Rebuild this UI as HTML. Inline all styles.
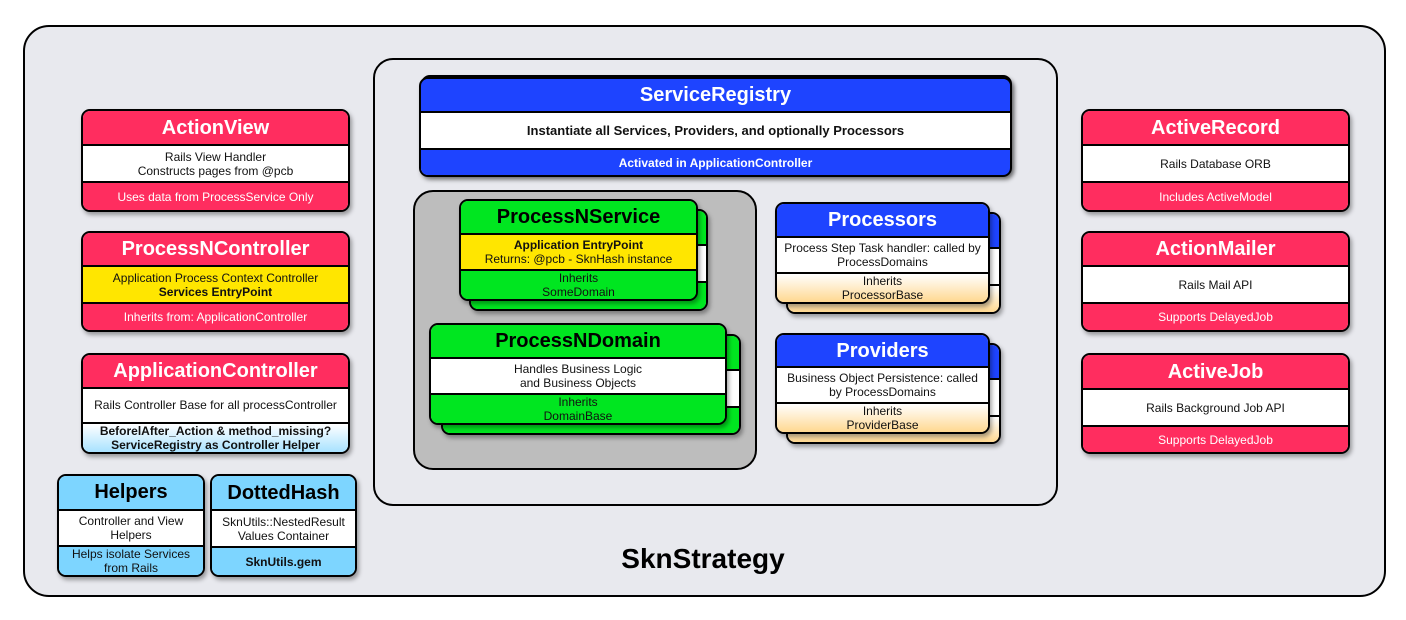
<!DOCTYPE html>
<html><head><meta charset="utf-8"><style>
body{margin:0;width:1406px;height:620px;background:#fff;position:relative;overflow:hidden;font-family:"Liberation Sans",Arial,sans-serif}
.c{position:absolute;border:2px solid #000;box-sizing:border-box}
.b{position:absolute;border:2px solid #000;border-radius:9px;overflow:hidden;box-sizing:border-box;box-shadow:2px 3px 4px rgba(0,0,0,.35);display:flex;flex-direction:column}
.b>div{display:flex;flex-direction:column;justify-content:center;align-items:center;text-align:center;font-size:12px;line-height:14px;color:#111}
.b>div+div{border-top:2px solid #000}
.h{font-weight:bold;font-size:20px!important;color:#fff!important}
.hk{font-weight:bold;font-size:20px!important;color:#000!important}
.r{background:#ff2d5f}.r.t{color:#fff}
.w{background:#fff}
.y{background:#ffe600}
.g{background:#00e620}
.bl{background:#1e44ff}
.lb{background:#7dd5ff}
.gb{background:linear-gradient(#fff,#a8e2ff)}
.og{background:linear-gradient(#fff,#ffd890)}
.bt{font-weight:bold}
</style></head><body>
<div class="c" style="left:23px;top:25px;width:1363px;height:572px;border-radius:26px;background:#e8e9ee"></div>
<div class="c" style="left:373px;top:58px;width:685px;height:448px;border-radius:20px;background:#e8e9ee"></div>
<div class="c" style="left:413px;top:190px;width:344px;height:280px;border-radius:20px;background:#bdbdbd"></div>
<div style="position:absolute;left:0;width:1406px;top:543px;text-align:center;font-weight:bold;font-size:28px">SknStrategy</div>

<!-- left column -->
<div class="b" style="left:81px;top:109px;width:269px;height:103px">
<div class="r h" style="height:33px">ActionView</div>
<div class="w" style="height:35px">Rails View Handler<br>Constructs pages from @pcb</div>
<div class="r" style="flex:1;color:#fff">Uses data from ProcessService Only</div></div>

<div class="b" style="left:81px;top:231px;width:269px;height:101px">
<div class="r h" style="height:32px">ProcessNController</div>
<div class="y" style="height:35px">Application Process Context Controller<br><b>Services EntryPoint</b></div>
<div class="r" style="flex:1;color:#fff">Inherits from: ApplicationController</div></div>

<div class="b" style="left:81px;top:353px;width:269px;height:101px">
<div class="r h" style="height:33px">ApplicationController</div>
<div class="w" style="height:35px">Rails Controller Base for all processController</div>
<div class="gb bt" style="flex:1">BeforelAfter_Action &amp; method_missing?<br>ServiceRegistry as Controller Helper</div></div>

<div class="b" style="left:57px;top:474px;width:148px;height:103px">
<div class="lb hk" style="height:33px">Helpers</div>
<div class="w" style="height:35px">Controller and View<br>Helpers</div>
<div class="lb" style="flex:1">Helps isolate Services<br>from Rails</div></div>

<div class="b" style="left:210px;top:474px;width:147px;height:103px">
<div class="lb hk" style="height:33px">DottedHash</div>
<div class="w" style="height:35px">SknUtils::NestedResult<br>Values Container</div>
<div class="lb bt" style="flex:1">SknUtils.gem</div></div>

<!-- right column -->
<div class="b" style="left:1081px;top:109px;width:269px;height:103px">
<div class="r h" style="height:33px">ActiveRecord</div>
<div class="w" style="height:35px">Rails Database ORB</div>
<div class="r" style="flex:1;color:#fff">Includes ActiveModel</div></div>
<div class="b" style="left:1081px;top:231px;width:269px;height:101px">
<div class="r h" style="height:32px">ActionMailer</div>
<div class="w" style="height:35px">Rails Mail API</div>
<div class="r" style="flex:1;color:#fff">Supports DelayedJob</div></div>
<div class="b" style="left:1081px;top:353px;width:269px;height:101px">
<div class="r h" style="height:33px">ActiveJob</div>
<div class="w" style="height:35px">Rails Background Job API</div>
<div class="r" style="flex:1;color:#fff">Supports DelayedJob</div></div>

<!-- service registry -->
<div class="b" style="left:421px;top:75px;width:591px;height:100px;background:#1e44ff"></div>
<div class="b" style="left:419px;top:77px;width:593px;height:100px">
<div class="bl h" style="height:32px">ServiceRegistry</div>
<div class="w bt" style="height:35px;font-size:13px!important">Instantiate all Services, Providers, and optionally Processors</div>
<div class="bl bt" style="flex:1;color:#fff">Activated in ApplicationController</div></div>

<!-- process service stack -->
<div class="b" style="left:469px;top:209px;width:239px;height:102px">
<div class="g" style="height:33px"></div><div class="w" style="height:35px"></div><div class="g" style="flex:1"></div></div>
<div class="b" style="left:459px;top:199px;width:239px;height:102px">
<div class="g hk" style="height:32px">ProcessNService</div>
<div class="y" style="height:35px"><b>Application EntryPoint</b>Returns: @pcb - SknHash instance</div>
<div class="g" style="flex:1">Inherits<br>SomeDomain</div></div>

<div class="b" style="left:441px;top:334px;width:300px;height:101px">
<div class="g" style="height:33px"></div><div class="w" style="height:35px"></div><div class="g" style="flex:1"></div></div>
<div class="b" style="left:429px;top:323px;width:298px;height:102px">
<div class="g hk" style="height:33px">ProcessNDomain</div>
<div class="w" style="height:35px">Handles Business Logic<br>and Business Objects</div>
<div class="g" style="flex:1">Inherits<br>DomainBase</div></div>

<div class="b" style="left:786px;top:212px;width:215px;height:102px">
<div class="bl" style="height:33px"></div><div class="w" style="height:35px"></div><div class="og" style="flex:1"></div></div>
<div class="b" style="left:775px;top:202px;width:215px;height:102px">
<div class="bl h" style="height:32px">Processors</div>
<div class="w" style="height:35px">Process Step Task handler: called by<br>ProcessDomains</div>
<div class="og" style="flex:1">Inherits<br>ProcessorBase</div></div>

<div class="b" style="left:786px;top:343px;width:215px;height:101px">
<div class="bl" style="height:33px"></div><div class="w" style="height:35px"></div><div class="og" style="flex:1"></div></div>
<div class="b" style="left:775px;top:333px;width:215px;height:101px">
<div class="bl h" style="height:32px">Providers</div>
<div class="w" style="height:35px">Business Object Persistence: called<br>by ProcessDomains</div>
<div class="og" style="flex:1">Inherits<br>ProviderBase</div></div>
</body></html>
